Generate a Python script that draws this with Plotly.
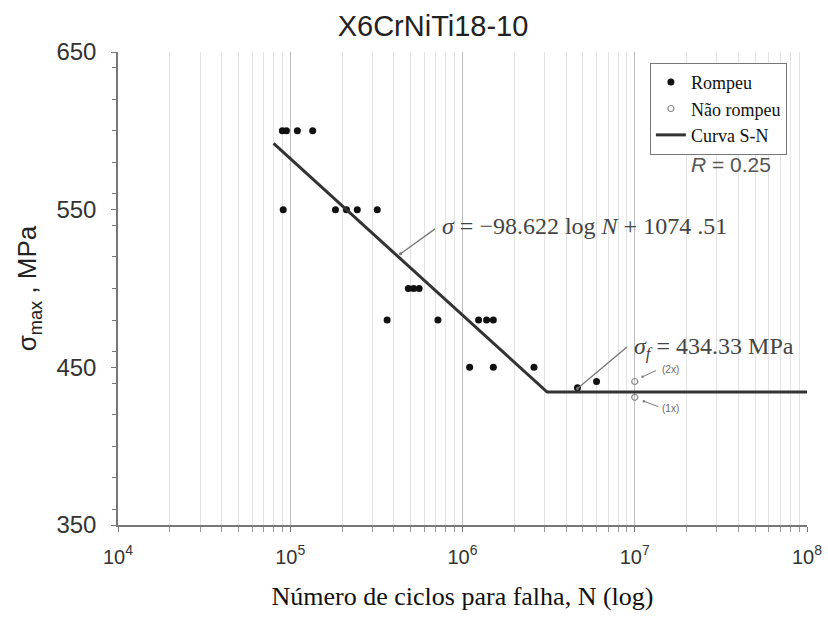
import plotly.graph_objects as go
import math

# ---- data ----
rompeu_N = [9.0e4, 9.5e4, 1.1e5, 1.35e5,
            9.1e4, 1.83e5, 2.12e5, 2.45e5, 3.2e5,
            4.85e5, 5.2e5, 5.6e5,
            3.65e5, 7.2e5, 1.24e6, 1.38e6, 1.51e6,
            1.1e6, 1.51e6, 2.6e6,
            4.65e6, 6.0e6]
rompeu_S = [600, 600, 600, 600,
            550, 550, 550, 550, 550,
            500, 500, 500,
            480, 480, 480, 480, 480,
            450, 450, 450,
            437, 441]

nao_rompeu_N = [1.0e7, 1.0e7]
nao_rompeu_S = [441, 431]

curva_N = [8.0e4, 3.1e6, 1.0e8]
curva_S = [592, 434.33, 434.33]

x_tickvals = [1e4, 1e5, 1e6, 1e7, 1e8]
x_ticktext = ["10<sup>4</sup>", "10<sup>5</sup>", "10<sup>6</sup>", "10<sup>7</sup>", "10<sup>8</sup>"]
y_tickvals = [350, 450, 550, 650]

title_text = "X6CrNiTi18-10"
x_title = "Número de ciclos para falha, N (log)"
y_title = "σ<sub>max</sub> , MPa"
eq_text = "<i>σ</i> = −98.622 log <i>N</i> + 1074 .51"
sf_text = "<i>σ<sub>f</sub></i> = 434.33 MPa"

SERIF = "Liberation Serif"
SANS = "Liberation Sans"
lg = math.log10

fig = go.Figure()
fig.add_trace(go.Scatter(x=rompeu_N, y=rompeu_S, mode="markers", name="Rompeu",
                         marker=dict(color="#111111", size=7)))
fig.add_trace(go.Scatter(x=nao_rompeu_N, y=nao_rompeu_S, mode="markers", name="Não rompeu",
                         marker=dict(color="#888888", size=6, symbol="circle-open",
                                     line=dict(width=1.2, color="#888888"))))
fig.add_trace(go.Scatter(x=curva_N, y=curva_S, mode="lines", name="Curva S-N",
                         line=dict(color="#333333", width=3)))

# equation annotation (arrow + text)
fig.add_annotation(x=lg(4.37e5), y=522, xref="x", yref="y", text="", showarrow=True,
                   arrowhead=6, arrowsize=0.6, arrowwidth=1.3, arrowcolor="#777777",
                   ax=36, ay=-26)
fig.add_annotation(x=lg(7.45e5), y=539.5, xref="x", yref="y", text=eq_text, showarrow=False,
                   xanchor="left", yanchor="middle",
                   font=dict(family=SERIF, size=24, color="#444444"))
# sigma_f annotation
fig.add_annotation(x=lg(4.65e6), y=436.5, xref="x", yref="y", text="", showarrow=True,
                   arrowhead=6, arrowsize=0.6, arrowwidth=1.3, arrowcolor="#777777",
                   ax=51, ay=-43)
fig.add_annotation(x=lg(9.6e6), y=462, xref="x", yref="y", text=sf_text, showarrow=False,
                   xanchor="left", yanchor="middle",
                   font=dict(family=SERIF, size=24, color="#444444"))
# (2x) / (1x)
fig.add_annotation(x=lg(1.11e7), y=444, xref="x", yref="y", text="", showarrow=True,
                   arrowhead=6, arrowsize=0.6, arrowwidth=1.0, arrowcolor="#777777",
                   ax=15, ay=-7)
fig.add_annotation(x=lg(1.62e7), y=448.5, xref="x", yref="y", text="(2x)", showarrow=False,
                   xanchor="center", yanchor="middle",
                   font=dict(family=SANS, size=10, color="#666666"))
fig.add_annotation(x=lg(1.13e7), y=428.5, xref="x", yref="y", text="", showarrow=True,
                   arrowhead=6, arrowsize=0.6, arrowwidth=1.0, arrowcolor="#777777",
                   ax=16, ay=6)
fig.add_annotation(x=lg(1.62e7), y=424, xref="x", yref="y", text="(1x)", showarrow=False,
                   xanchor="center", yanchor="middle",
                   font=dict(family=SANS, size=10, color="#666666"))
# R = 0.25
fig.add_annotation(x=0.889, y=0.762, xref="paper", yref="paper", text="<i>R</i> = 0.25",
                   showarrow=False, xanchor="center", yanchor="middle",
                   font=dict(family=SANS, size=21, color="#555555"))

fig.update_layout(
    width=828, height=626,
    margin=dict(l=118, r=21, t=52, b=101),
    paper_bgcolor="white", plot_bgcolor="white",
    title=dict(text=title_text, x=0.523, xanchor="center", y=0.958, yanchor="middle",
               font=dict(family=SANS, size=29, color="#222222")),
    showlegend=True,
    legend=dict(x=0.772, y=0.977, xanchor="left", yanchor="top",
                bgcolor="white", bordercolor="#777777", borderwidth=1,
                font=dict(family=SERIF, size=18, color="#111111"),
                tracegroupgap=0, itemwidth=30),
    font=dict(family=SANS),
)

fig.update_xaxes(
    type="log", range=[4, 8], automargin=False,
    tickmode="array", tickvals=x_tickvals, ticktext=x_ticktext,
    tickfont=dict(family=SANS, size=20, color="#333333"),
    ticks="outside", ticklen=5, tickcolor="#777777", ticklabelstandoff=8,
    ticklabeloverflow="allow",
    showline=True, linecolor="#777777", linewidth=1.5,
    showgrid=True, gridcolor="#bdbdbd", gridwidth=1,
    minor=dict(dtick="D1", showgrid=True, gridcolor="#e3e3e3", gridwidth=1,
               ticks="outside", ticklen=5, tickcolor="#999999"),
    zeroline=False,
    title=dict(text=x_title, font=dict(family=SERIF, size=26, color="#111111"), standoff=20),
)
fig.update_yaxes(
    range=[350, 650], automargin=False,
    tickmode="array", tickvals=y_tickvals,
    tickfont=dict(family=SANS, size=24, color="#333333"),
    ticks="outside", ticklen=5, tickcolor="#777777", ticklabelstandoff=10,
    showline=True, linecolor="#777777", linewidth=1.5,
    showgrid=False,
    minor=dict(dtick=20, ticks="outside", ticklen=4, tickcolor="#777777", showgrid=False),
    zeroline=False,
    title=dict(text=y_title, font=dict(family=SANS, size=26, color="#222222"), standoff=12),
)

fig.write_html("out.html")
